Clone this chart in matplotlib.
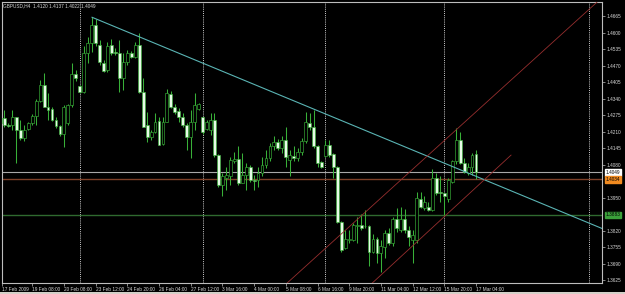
import matplotlib
matplotlib.use("Agg")
import matplotlib.pyplot as plt

# ---------------- data (GBPUSD H4) ----------------
opens = [1.4262, 1.4262, 1.4236, 1.4236, 1.4266, 1.4214, 1.4183, 1.4219, 1.4243, 1.4271,
         1.4332, 1.4394, 1.4308, 1.4300, 1.4256, 1.4232, 1.4201, 1.4243, 1.4315, 1.4437,
         1.4390, 1.4367, 1.4518, 1.4558, 1.4630, 1.4551, 1.4479, 1.4453, 1.4551, 1.4525,
         1.4518, 1.4420, 1.4485, 1.4521, 1.4505, 1.4551, 1.4367, 1.4236, 1.4190, 1.4210,
         1.4253, 1.4161, 1.4249, 1.4358, 1.4308, 1.4289, 1.4269, 1.4236, 1.4187, 1.4249,
         1.4298, 1.4266, 1.4219, 1.4216, 1.4256, 1.4118, 1.4000, 1.4026, 1.4033, 1.4092,
         1.4101, 1.4009, 1.4039, 1.4072, 1.4019, 1.4017, 1.4046, 1.4078, 1.4105, 1.4151,
         1.4170, 1.4144, 1.4177, 1.4098, 1.4115, 1.4105, 1.4131, 1.4174, 1.4245, 1.4229,
         1.4151, 1.4088, 1.4115, 1.4157, 1.4122, 1.4072, 1.3855, 1.3750, 1.3783, 1.3783,
         1.3836, 1.3842, 1.3838, 1.3838, 1.3737, 1.3786, 1.3731, 1.3754, 1.3812, 1.3770,
         1.3864, 1.3823, 1.3864, 1.3823, 1.3783, 1.3783, 1.3943, 1.3908, 1.3914, 1.3901,
         1.4026, 1.3973, 1.3967, 1.3943, 1.4013, 1.4092, 1.4177, 1.4085, 1.4048, 1.4072,
         1.4120]
highs = [1.4269, 1.4295, 1.4243, 1.4295, 1.4269, 1.4256, 1.4236, 1.4249, 1.4279, 1.4337,
         1.4413, 1.4440, 1.4361, 1.4308, 1.4269, 1.4236, 1.4315, 1.4319, 1.4479, 1.4453,
         1.4394, 1.4545, 1.4584, 1.4660, 1.4652, 1.4571, 1.4492, 1.4564, 1.4573, 1.4538,
         1.4571, 1.4518, 1.4531, 1.4529, 1.4564, 1.4600, 1.4420, 1.4285, 1.4216, 1.4282,
         1.4269, 1.4269, 1.4376, 1.4371, 1.4319, 1.4302, 1.4282, 1.4243, 1.4295, 1.4361,
         1.4324, 1.4269, 1.4256, 1.4282, 1.4282, 1.4122, 1.4046, 1.4072, 1.4111, 1.4131,
         1.4151, 1.4124, 1.4085, 1.4078, 1.4039, 1.4072, 1.4111, 1.4137, 1.4164, 1.4193,
         1.4180, 1.4193, 1.4229, 1.4137, 1.4151, 1.4144, 1.4183, 1.4285, 1.4282, 1.4295,
         1.4157, 1.4092, 1.4177, 1.4177, 1.4124, 1.4075, 1.3859, 1.3823, 1.3823, 1.3849,
         1.3872, 1.3885, 1.3901, 1.3842, 1.3807, 1.3796, 1.3783, 1.3823, 1.3829, 1.3875,
         1.3908, 1.3914, 1.3904, 1.3836, 1.3823, 1.3973, 1.3973, 1.3954, 1.3934, 1.4061,
         1.4046, 1.4033, 1.3973, 1.4026, 1.4098, 1.4223, 1.4210, 1.4105, 1.4085, 1.4124,
         1.4137]
lows = [1.4203, 1.4229, 1.4227, 1.4216, 1.4085, 1.4177, 1.4174, 1.4216, 1.4236, 1.4236,
        1.4328, 1.4308, 1.4256, 1.4253, 1.4223, 1.4193, 1.4148, 1.4236, 1.4308, 1.4407,
        1.4361, 1.4361, 1.4479, 1.4525, 1.4545, 1.4472, 1.4446, 1.4446, 1.4512, 1.4512,
        1.4367, 1.4374, 1.4472, 1.4499, 1.4499, 1.4361, 1.4227, 1.4170, 1.4177, 1.4203,
        1.4157, 1.4157, 1.4249, 1.4302, 1.4279, 1.4249, 1.4227, 1.4137, 1.4105, 1.4216,
        1.4295, 1.4201, 1.4214, 1.4197, 1.4111, 1.3993, 1.3954, 1.3980, 1.4000, 1.4085,
        1.4000, 1.4006, 1.3980, 1.4013, 1.3980, 1.3993, 1.4033, 1.4065, 1.4092, 1.4137,
        1.4137, 1.4124, 1.4072, 1.4033, 1.4092, 1.4092, 1.4118, 1.4164, 1.4216, 1.4144,
        1.4072, 1.4065, 1.4111, 1.4111, 1.4026, 1.3851, 1.3737, 1.3746, 1.3770, 1.3780,
        1.3770, 1.3823, 1.3829, 1.3681, 1.3731, 1.3691, 1.3658, 1.3711, 1.3763, 1.3757,
        1.3816, 1.3816, 1.3809, 1.3757, 1.3691, 1.3770, 1.3908, 1.3901, 1.3895, 1.3895,
        1.3960, 1.3934, 1.3881, 1.3934, 1.4006, 1.4082, 1.4082, 1.4046, 1.4039, 1.4039,
        1.4022]
closes = [1.4243, 1.4236, 1.4232, 1.4266, 1.4216, 1.4183, 1.4216, 1.4243, 1.4271, 1.4332,
          1.4394, 1.4308, 1.4295, 1.4256, 1.4232, 1.4201, 1.4308, 1.4315, 1.4437, 1.4420,
          1.4367, 1.4518, 1.4558, 1.4630, 1.4558, 1.4485, 1.4450, 1.4547, 1.4521, 1.4518,
          1.4420, 1.4485, 1.4518, 1.4505, 1.4551, 1.4367, 1.4229, 1.4190, 1.4210, 1.4249,
          1.4157, 1.4249, 1.4361, 1.4308, 1.4285, 1.4269, 1.4236, 1.4187, 1.4249, 1.4315,
          1.4317, 1.4210, 1.4249, 1.4256, 1.4118, 1.4000, 1.4035, 1.4039, 1.4098, 1.4102,
          1.4009, 1.4039, 1.4072, 1.4017, 1.4014, 1.4046, 1.4078, 1.4105, 1.4151, 1.4170,
          1.4144, 1.4177, 1.4111, 1.4118, 1.4105, 1.4131, 1.4174, 1.4249, 1.4227, 1.4151,
          1.4085, 1.4069, 1.4157, 1.4118, 1.4072, 1.3855, 1.3744, 1.3786, 1.3786, 1.3842,
          1.3842, 1.3829, 1.3836, 1.3737, 1.3786, 1.3731, 1.3757, 1.3812, 1.3770, 1.3864,
          1.3829, 1.3864, 1.3823, 1.3796, 1.3803, 1.3947, 1.3914, 1.3934, 1.3901, 1.4026,
          1.3967, 1.3967, 1.3954, 1.4019, 1.4092, 1.4177, 1.4085, 1.4052, 1.4072, 1.4118,
          1.4049]

price_ticks = [1.4665, 1.4600, 1.4535, 1.4470, 1.4405, 1.4340, 1.4275, 1.4210,
               1.4145, 1.4080, 1.3950, 1.3820, 1.3755, 1.3690, 1.3625]
time_tick_bars = [0.4, 8, 16, 24, 32, 40, 48, 56, 64, 72, 80, 88, 96, 104, 112, 120]
time_tick_labels = ["17 Feb 2009", "19 Feb 08:00", "20 Feb 08:00", "23 Feb 12:00",
                    "24 Feb 20:00", "26 Feb 04:00", "27 Feb 12:00", "3 Mar 16:00",
                    "4 Mar 00:00", "5 Mar 08:00", "6 Mar 16:00", "9 Mar 20:00",
                    "11 Mar 04:00", "12 Mar 12:00", "15 Mar 20:00", "17 Mar 04:00"]
separator_bars = [20, 51, 82, 112, 148.6]

bid_price = 1.4049
orange_level = 1.4021
orange_label = "1.4034"
green_level = 1.3882
green_label = "1.3883"

trend_x = [23.1, 151.8]
trend_y = [1.4660, 1.3828]
chan_up_x = [80.6, 148.8]
chan_up_y = [1.3730, 1.4695]
chan_lo_x = [93.75, 128.84]
chan_lo_y = [1.3612, 1.4117]

header = "GBPUSD,H4  1.4120 1.4137 1.4022 1.4049"

# ---------------- style ----------------
W, H = 625, 294
FONT = "Liberation Sans"
FS = 3.4
GREEN = "#38b038"
BEAR_FACE = "#e6fbe6"
TXT = "#d8d8d8"

fig = plt.figure(figsize=(W / 100, H / 100), dpi=100, facecolor="black")
ax = fig.add_axes([2 / W, (H - 283) / H, 600 / W, 281 / H], facecolor="black")

n = len(opens)
xs = list(range(n))

ax.vlines(xs, lows, highs, colors=GREEN, linewidth=0.75, zorder=3)
for i in range(n):
    o, c = opens[i], closes[i]
    bottom = min(o, c)
    h = abs(c - o)
    face = "black" if c > o else BEAR_FACE
    ax.bar(i, max(h, 0.00002), bottom=bottom, width=0.72, color=face,
           edgecolor=GREEN, linewidth=0.45, zorder=4)

# period separators
for b in separator_bars:
    ax.axvline(b, color="#cfcfcf", linewidth=0.7, linestyle=(0, (1, 1.2)), zorder=2)

# horizontal levels
ax.axhline(bid_price, color="#a8a8a8", linewidth=0.8, zorder=2)
ax.axhline(orange_level, color="#7e4028", linewidth=1.0, zorder=2)
ax.axhline(green_level, color="#2f6a2f", linewidth=1.0, zorder=2)

# trend lines
ax.plot(trend_x, trend_y, color="#5ab4b4", linewidth=0.8, zorder=5)
ax.axline((chan_up_x[0], chan_up_y[0]), (chan_up_x[1], chan_up_y[1]),
          color="#962e2e", linewidth=0.6, zorder=5)
ax.plot(chan_lo_x, chan_lo_y, color="#962e2e", linewidth=0.6, zorder=5)

# axes limits (pixel mapping)
px_per_bar = 3.9625
ax.set_xlim((2 - 0.5) / px_per_bar, (602 - 0.5) / px_per_bar)
ppu = 2538.5
ax.set_ylim(1.4665 - (283 - 16) / ppu, 1.4665 + (16 - 2) / ppu)

for s in ax.spines.values():
    s.set_color("#bdbdbd")
    s.set_linewidth(0.8)

ax.yaxis.tick_right()
ax.set_yticks(price_ticks)
ax.set_yticklabels([f"{p:.4f}" for p in price_ticks])
ax.tick_params(axis="y", colors="#bdbdbd", labelcolor=TXT, length=2, width=0.5,
               pad=1.5, labelsize=FS)
ax.set_xticks(time_tick_bars)
ax.set_xticklabels(time_tick_labels)
ax.tick_params(axis="x", colors="#bdbdbd", labelcolor=TXT, length=2, width=0.5,
               pad=1.2, labelsize=FS)
for lbl in ax.get_xticklabels() + ax.get_yticklabels():
    lbl.set_fontfamily(FONT)
for lbl in ax.get_xticklabels():
    lbl.set_horizontalalignment("left")

# price boxes on right axis
def price_box(price, text, face, fg):
    ax.annotate(text, xy=(1.0, price), xycoords=("axes fraction", "data"),
                xytext=(2.5, 0), textcoords="offset points", ha="left", va="center",
                fontsize=FS, family=FONT, color=fg, annotation_clip=False, zorder=10,
                bbox=dict(boxstyle="square,pad=0.15", fc=face, ec=face))

price_box(bid_price, f"{bid_price:.4f}", "white", "black")
price_box(orange_level, orange_label, "#f08a20", "black")
price_box(green_level, green_label, "#3aa03a", "black")

fig.text(3 / W, 1 - 6 / H, header, fontsize=FS, family=FONT, color=TXT,
         ha="left", va="center")

# bottom window strip
fig.patches.append(plt.Rectangle((0, 0), 1, 2.5 / H, transform=fig.transFigure,
                                 facecolor="#d4d0c8", edgecolor="none"))

fig.savefig("out.png", dpi=100, facecolor="black")
